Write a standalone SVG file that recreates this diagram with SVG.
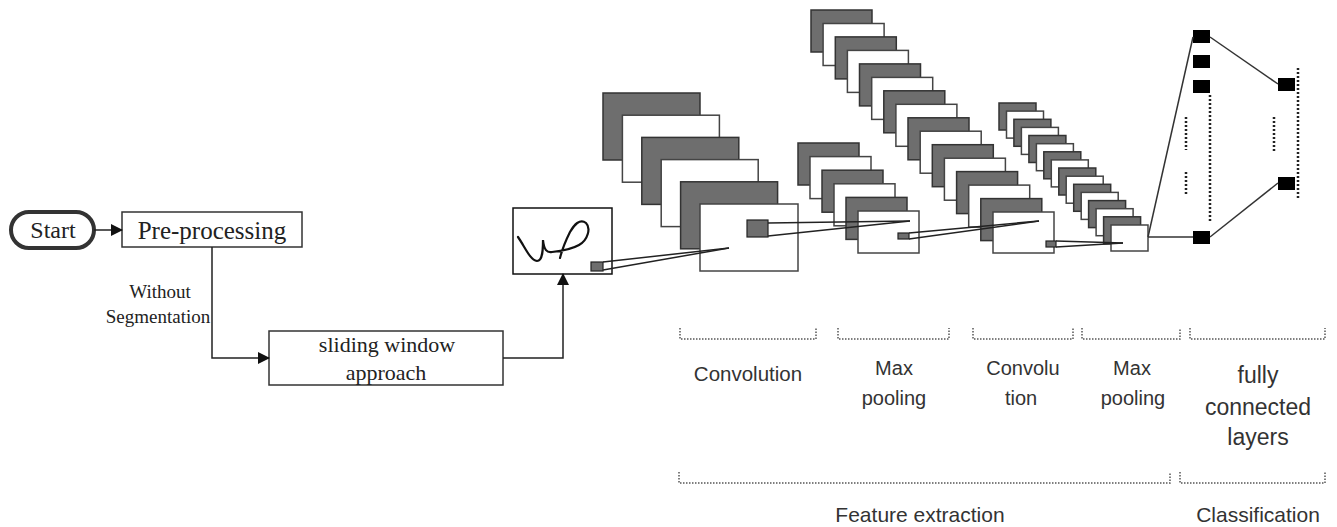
<svg xmlns="http://www.w3.org/2000/svg" width="1337" height="527" viewBox="0 0 1337 527">
<defs>
<marker id="arr" markerWidth="12" markerHeight="12" refX="11" refY="6" orient="auto" markerUnits="userSpaceOnUse">
<path d="M0,0 L12,6 L0,12 Z" fill="#111"/>
</marker>
<style>
.serif{font-family:"Liberation Serif","Times New Roman",serif;fill:#222;text-anchor:middle}
.sans{font-family:"Liberation Sans",Arial,sans-serif;fill:#333;text-anchor:middle}
.box{fill:#fff;stroke:#333;stroke-width:1.5}
.g{fill:#6e6e6e;stroke:#333;stroke-width:1.5}
.w{fill:#fff;stroke:#444;stroke-width:1.5}
.sq{fill:#6e6e6e;stroke:#222;stroke-width:1.2}
.ln{fill:none;stroke:#222;stroke-width:1.5}
.fl{fill:none;stroke:#333;stroke-width:1.5}
.node{fill:#000}
.dot{fill:none;stroke:#222;stroke-width:2.5;stroke-dasharray:2,2}
.br{fill:none;stroke:#555;stroke-width:1.5;stroke-dasharray:1.5,1.5}
</style>
</defs>
<rect width="1337" height="527" fill="#fff"/>

<g id="start">
<rect x="11" y="212" width="83" height="36" rx="18" fill="#fff" stroke="#333" stroke-width="4"/>
<text class="serif" x="53" y="238" font-size="24">Start</text>
</g>
<g id="preprocessing">
<rect class="box" x="122" y="212" width="180" height="35"/>
<text class="serif" x="212" y="239" font-size="25">Pre-processing</text>
</g>
<g id="label-without">
<text class="serif" x="160" y="298" font-size="19">Without</text>
<text class="serif" x="158" y="323" font-size="19">Segmentation</text>
</g>
<g id="sliding">
<rect class="box" x="269" y="331" width="234" height="54"/>
<text class="serif" x="387" y="352" font-size="22">sliding window</text>
<text class="serif" x="386" y="380" font-size="22">approach</text>
</g>
<g id="input">
<rect x="513" y="208" width="99" height="66" fill="#fff" stroke="#111" stroke-width="1.5"/>
<path d="M518,237 C525,247 530,260 537,261 C543,261 543,248 543,240 C544,250 547,253 552,252 C562,251 572,249 579,245 C588,240 591,228 586,223 C580,218 574,225 570,232 C566,240 562,250 560,258" fill="none" stroke="#111" stroke-width="2.2" stroke-linecap="round"/>
<rect class="sq" x="591" y="262" width="12" height="9"/>
</g>

<g id="conv1">
<rect class="g" x="603" y="93" width="97" height="67"/>
<rect class="w" x="622.4" y="115.2" width="97" height="67"/>
<rect class="g" x="641.8" y="137.4" width="97" height="67"/>
<rect class="w" x="661.2" y="159.6" width="97" height="67"/>
<rect class="g" x="680.6" y="181.8" width="97" height="67"/>
<rect class="w" x="700" y="204" width="98" height="67"/>
<rect class="sq" x="747" y="220" width="21" height="17"/>
</g>

<g id="pool1">
<rect class="g" x="798" y="143" width="61" height="42"/>
<rect class="w" x="810" y="156.6" width="61" height="42"/>
<rect class="g" x="822" y="170.2" width="61" height="42"/>
<rect class="w" x="834" y="183.8" width="61" height="42"/>
<rect class="g" x="846" y="197.4" width="61" height="42"/>
<rect class="w" x="858" y="211" width="61" height="42"/>
<rect class="sq" x="898" y="233" width="11" height="6"/>
</g>

<g id="conv2">
<rect class="g" x="811" y="10" width="61" height="42"/>
<rect class="w" x="823.1" y="23.5" width="61" height="42"/>
<rect class="g" x="835.3" y="36.9" width="61" height="42"/>
<rect class="w" x="847.4" y="50.4" width="61" height="42"/>
<rect class="g" x="859.5" y="63.9" width="61" height="42"/>
<rect class="w" x="871.7" y="77.4" width="61" height="42"/>
<rect class="g" x="883.8" y="90.8" width="61" height="42"/>
<rect class="w" x="895.9" y="104.3" width="61" height="42"/>
<rect class="g" x="908" y="117.8" width="61" height="42"/>
<rect class="w" x="920.2" y="131.2" width="61" height="42"/>
<rect class="g" x="932.3" y="144.7" width="61" height="42"/>
<rect class="w" x="944.4" y="158.2" width="61" height="42"/>
<rect class="g" x="956.6" y="171.6" width="61" height="42"/>
<rect class="w" x="968.7" y="185.1" width="61" height="42"/>
<rect class="g" x="980.8" y="198.6" width="61" height="42"/>
<rect class="w" x="993" y="212" width="61" height="41"/>
<rect class="sq" x="1046" y="241" width="10" height="6"/>
</g>

<g id="pool2">
<rect class="g" x="999" y="103" width="37" height="27"/>
<rect class="w" x="1006.5" y="111.1" width="37" height="27"/>
<rect class="g" x="1013.9" y="119.3" width="37" height="27"/>
<rect class="w" x="1021.4" y="127.4" width="37" height="27"/>
<rect class="g" x="1028.9" y="135.5" width="37" height="27"/>
<rect class="w" x="1036.4" y="143.7" width="37" height="27"/>
<rect class="g" x="1043.8" y="151.8" width="37" height="27"/>
<rect class="w" x="1051.3" y="159.9" width="37" height="27"/>
<rect class="g" x="1058.8" y="168" width="37" height="27"/>
<rect class="w" x="1066.2" y="176.2" width="37" height="27"/>
<rect class="g" x="1073.7" y="184.3" width="37" height="27"/>
<rect class="w" x="1081.2" y="192.4" width="37" height="27"/>
<rect class="g" x="1088.6" y="200.6" width="37" height="27"/>
<rect class="w" x="1096.1" y="208.7" width="37" height="27"/>
<rect class="g" x="1103.6" y="216.8" width="37" height="27"/>
<rect class="w" x="1111" y="225" width="37" height="26"/>
</g>

<g id="fc">
<rect class="node" x="1193" y="30" width="17" height="13"/>
<rect class="node" x="1193" y="55" width="17" height="13"/>
<rect class="node" x="1193" y="80" width="17" height="13"/>
<rect class="node" x="1193" y="231" width="17" height="13"/>
<rect class="node" x="1278" y="78" width="17" height="13"/>
<rect class="node" x="1278" y="177" width="17" height="13"/>
<line class="dot" x1="1210" y1="95" x2="1210" y2="222"/>
<line class="dot" x1="1186" y1="117" x2="1186" y2="150"/>
<line class="dot" x1="1186" y1="172" x2="1186" y2="196"/>
<line class="dot" x1="1298" y1="68" x2="1298" y2="200"/>
<line class="dot" x1="1274" y1="117" x2="1274" y2="152"/>
</g>

<g id="connectors">
<line class="ln" x1="94" y1="230" x2="122" y2="230" marker-end="url(#arr)"/>
<polyline class="ln" points="212,247 212,358 269,358" marker-end="url(#arr)"/>
<polyline class="ln" points="503,358 563,358 563,274" marker-end="url(#arr)"/>
<line class="ln" x1="603" y1="262" x2="729" y2="248"/>
<line class="ln" x1="603" y1="270" x2="729" y2="248"/>
<line class="ln" x1="768" y1="223" x2="910" y2="221"/>
<line class="ln" x1="768" y1="236" x2="910" y2="221"/>
<line class="ln" x1="909" y1="233" x2="1039" y2="221"/>
<line class="ln" x1="909" y1="239" x2="1039" y2="221"/>
<line class="ln" x1="1056" y1="241" x2="1123" y2="243"/>
<line class="ln" x1="1056" y1="247" x2="1123" y2="243"/>
<line class="fl" x1="1148" y1="237" x2="1193" y2="37"/>
<line class="fl" x1="1148" y1="237" x2="1193" y2="237"/>
<line class="fl" x1="1210" y1="37" x2="1278" y2="84"/>
<line class="fl" x1="1210" y1="237" x2="1278" y2="183"/>
</g>

<g id="brackets">
<path class="br" d="M680,328 V339 H816 V328"/>
<path class="br" d="M838,328 V339 H949 V328"/>
<path class="br" d="M973,328 V339 H1073 V328"/>
<path class="br" d="M1082,328 V339 H1180 V328"/>
<path class="br" d="M1190,328 V339 H1325 V328"/>
<path class="br" d="M679,472 V483 H1170 V472"/>
<path class="br" d="M1180,472 V483 H1325 V472"/>
</g>

<g id="labels">
<text class="sans" x="748" y="381" font-size="20.5">Convolution</text>
<text class="sans" x="894" y="375" font-size="20">Max</text>
<text class="sans" x="894" y="405" font-size="20">pooling</text>
<text class="sans" x="1023" y="375" font-size="20">Convolu</text>
<text class="sans" x="1021" y="405" font-size="20">tion</text>
<text class="sans" x="1132" y="375" font-size="20">Max</text>
<text class="sans" x="1133" y="405" font-size="20">pooling</text>
<text class="sans" x="1258" y="383" font-size="23">fully</text>
<text class="sans" x="1258" y="415" font-size="23">connected</text>
<text class="sans" x="1258" y="445" font-size="23">layers</text>
<text class="sans" x="920" y="522" font-size="21">Feature extraction</text>
<text class="sans" x="1258" y="522" font-size="21">Classification</text>
</g>
</svg>
